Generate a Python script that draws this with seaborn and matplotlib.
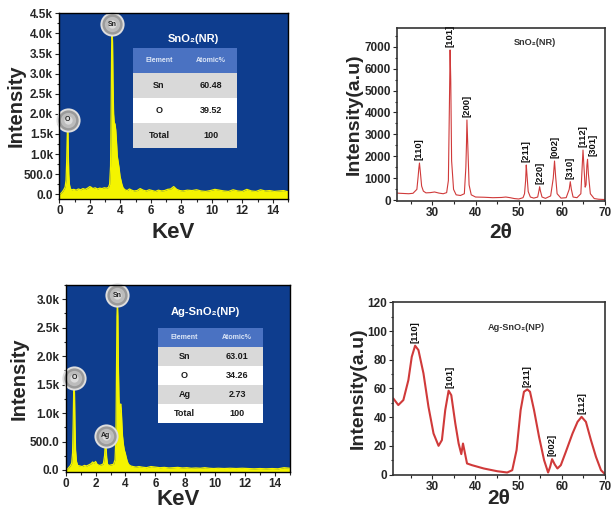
import numpy as np
import pandas as pd
import matplotlib.pyplot as plt
import seaborn as sns
from matplotlib.ticker import MultipleLocator, FuncFormatter
from matplotlib.transforms import offset_copy

# EDS spectrum, SnO2 nanorods
kev_nr = [0.00, 0.10, 0.20, 0.30, 0.38, 0.44, 0.48, 0.51, 0.53, 0.55, 0.57, 0.59, 0.62, 0.66, 0.72,
          0.80, 0.95, 1.10, 1.25, 1.40, 1.55, 1.70, 1.85, 2.00, 2.10, 2.20, 2.35, 2.50, 2.65, 2.80,
          2.95, 3.10, 3.22, 3.30, 3.36, 3.40, 3.43, 3.46, 3.49, 3.52, 3.56, 3.60, 3.65, 3.70, 3.75,
          3.80, 3.86, 3.92, 3.98, 4.04, 4.10, 4.18, 4.30, 4.45, 4.60, 4.75, 4.90, 5.10, 5.30, 5.50,
          5.70, 5.90, 6.10, 6.30, 6.50, 6.70, 6.90, 7.10, 7.30, 7.50, 7.70, 7.90, 8.10, 8.40, 8.70,
          9.00, 9.30, 9.60, 9.90, 10.20, 10.50, 10.80, 11.10, 11.40, 11.70, 12.00, 12.30, 12.60,
          12.90, 13.20, 13.50, 13.80, 14.10, 14.40, 14.70, 15.00]
cnt_nr = [0, 20, 60, 120, 180, 350, 800, 1300, 1600, 1680, 1500, 1000, 500, 250, 140,
          110, 120, 100, 130, 110, 140, 120, 150, 190, 170, 140, 160, 130, 150, 140,
          160, 150, 170, 250, 700, 2200, 3600, 4050, 3800, 2800, 2000, 1780, 1750, 1600, 1300,
          950, 800, 650, 450, 350, 250, 160, 110, 90, 130, 100, 80, 90, 140, 100,
          80, 110, 90, 70, 100, 80, 90, 120, 130, 190, 120, 90, 80, 100, 90,
          110, 80, 70, 90, 120, 100, 80, 70, 110, 80, 70, 120, 80,
          70, 110, 80, 90, 70, 80, 90, 60]
el_nr = ['O', 'Sn']
el_kev_nr = [0.55, 3.46]
el_cnt_nr = [1680, 4050]
tab_nr = [['Element', 'Atomic%'], ['Sn', '60.48'], ['O', '39.52'], ['Total', '100']]

# EDS spectrum, Ag-SnO2 nanoparticles
kev_np = [0.00, 0.10, 0.20, 0.30, 0.40, 0.46, 0.50, 0.53, 0.56, 0.59, 0.62, 0.66, 0.72, 0.80, 0.95,
          1.10, 1.25, 1.40, 1.55, 1.70, 1.80, 1.90, 2.00, 2.10, 2.25, 2.40, 2.52, 2.60, 2.64, 2.67,
          2.70, 2.74, 2.80, 2.90, 3.05, 3.20, 3.30, 3.36, 3.40, 3.43, 3.46, 3.49, 3.52, 3.56, 3.60,
          3.64, 3.68, 3.72, 3.76, 3.80, 3.86, 3.92, 3.98, 4.05, 4.12, 4.20, 4.35, 4.50, 4.70, 4.90,
          5.10, 5.40, 5.70, 6.00, 6.30, 6.60, 6.90, 7.20, 7.50, 7.80, 8.10, 8.40, 8.70, 9.00, 9.30,
          9.60, 9.90, 10.20, 10.60, 11.00, 11.40, 11.80, 12.20, 12.60, 13.00, 13.40, 13.80, 14.20,
          14.60, 15.00]
cnt_np = [0, 10, 40, 70, 120, 300, 800, 1300, 1500, 1350, 800, 350, 150, 80, 70,
          60, 80, 70, 90, 110, 140, 120, 150, 100, 80, 90, 110, 250, 420, 480,
          420, 220, 100, 80, 90, 100, 180, 600, 1800, 2700, 2950, 2700, 1900, 1300, 1000,
          1100, 1160, 1050, 800, 600, 450, 350, 300, 220, 150, 100, 70, 60, 50, 60,
          50, 40, 60, 50, 40, 45, 35, 40, 45, 35, 40, 30, 35, 30, 40,
          30, 25, 30, 25, 30, 25, 30, 25, 20, 25, 20, 25, 20,
          40, 30]
el_np = ['O', 'Ag', 'Sn']
el_kev_np = [0.56, 2.67, 3.46]
el_cnt_np = [1500, 480, 2950]
tab_np = [['Element', 'Atomic%'], ['Sn', '63.01'], ['O', '34.26'], ['Ag', '2.73'], ['Total', '100']]

# XRD, SnO2 nanorods
tt_nr = [21.8, 22.5, 23.5, 24.5, 25.5, 26.4, 26.7, 26.85, 27.0, 27.2, 27.5, 27.9, 28.5, 29.5, 30.5,
         31.5, 32.5, 33.3, 33.7, 33.95, 34.1, 34.25, 34.45, 34.9, 35.5, 36.5, 37.4, 37.75, 37.9,
         38.0, 38.2, 38.5, 39.0, 40.0, 42.0, 44.0, 46.0, 47.0, 48.0, 49.0, 50.0, 51.0, 51.35,
         51.6, 51.75, 51.9, 52.2, 52.7, 53.5, 54.4, 54.7, 54.85, 55.0, 55.4, 56.2, 57.4, 58.0,
         58.3, 58.55, 58.9, 59.8, 61.0, 61.7, 61.95, 62.2, 62.6, 63.5, 64.4, 64.7, 64.9, 65.1,
         65.4, 65.6, 65.8, 65.95, 66.15, 66.6, 67.5, 68.5, 69.5, 70.0]
int_nr = [330, 320, 310, 300, 320, 500, 1100, 1450, 1700, 1300, 650, 420, 340, 350, 380,
          330, 300, 350, 900, 4500, 6850, 5500, 1800, 500, 250, 220, 300, 1500, 2600,
          3660, 2500, 700, 250, 150, 140, 120, 130, 150, 120, 80, 60, 120, 300,
          900, 1610, 1200, 400, 150, 100, 150, 450, 620, 450, 150, 90, 200, 1000,
          1790, 1100, 300, 100, 120, 500, 850, 500, 150, 120, 300, 1500, 2290, 1600,
          600, 700, 1600, 1870, 1200, 300, 80, 50, 40, 40]
pk_nr = ['[110]', '[101]', '[200]', '[211]', '[220]', '[002]', '[310]', '[112]', '[301]']
pk_tt_nr = [27.0, 34.1, 38.0, 51.75, 54.85, 58.3, 61.95, 64.9, 65.95]
pk_int_nr = [1700, 6850, 3660, 1610, 620, 1790, 850, 2290, 1870]

# XRD, Ag-SnO2 nanoparticles
tt_np = [21.0, 22.16, 23.33, 24.49, 25.27, 26.05, 26.82, 27.98, 29.14, 30.31, 31.47, 32.25, 33.02,
         33.8, 34.42, 35.35, 36.12, 36.74, 37.13, 37.52, 38.06, 39.22, 41.94, 45.04, 47.36,
         48.53, 49.53, 50.47, 51.24, 52.02, 52.64, 53.57, 54.73, 55.9, 56.83, 57.29, 57.75,
         58.37, 58.99, 59.77, 60.93, 62.48, 63.64, 64.57, 65.58, 66.74, 67.91, 69.07, 69.84]
int_np = [53, 48.4, 51.9, 65.8, 82, 89.8, 86.7, 70.5, 47.2, 28.6, 20, 24, 44.9,
          58.4, 55.3, 35.6, 21.6, 14.2, 21.6, 15.8, 7.7, 6.5, 4.2, 2.3, 1.4,
          3, 17, 44.9, 57.7, 59.3, 57.7, 44.9, 26.3, 10, 1.4, 5.3, 10.7,
          7, 4.2, 6.5, 15.8, 28.6, 36.7, 40.2, 36.7, 24, 12.3, 3, 0.7]
pk_np = ['[110]', '[101]', '[211]', '[002]', '[112]']
pk_tt_np = [26.05, 34.2, 52.02, 57.75, 64.57]
pk_int_np = [89.8, 58.4, 59.3, 10.7, 40.2]

sns.set_theme(style='ticks')
plt.rcParams['font.family'] = ['Liberation Sans', 'DejaVu Sans']
plt.rcParams['font.weight'] = 'bold'
plt.rcParams['axes.linewidth'] = 1.0

BLUE_BG = '#0e3d8e'
YELLOW = '#f4f400'
RED = '#d03a3a'

fig = plt.figure(figsize=(6.11, 5.16), dpi=100)
ax_tl = fig.add_axes([0.0971, 0.6143, 0.3743, 0.3599])
ax_tr = fig.add_axes([0.6498, 0.6105, 0.3404, 0.3353])
ax_bl = fig.add_axes([0.1075, 0.0859, 0.3671, 0.3618])
ax_br = fig.add_axes([0.6437, 0.0804, 0.3465, 0.3337])


def kfmt(v, pos):
    if v < 1000:
        return f'{v:.1f}'
    return f'{v/1000:.1f}k'


def sphere(ax, x, y, name):
    tr = offset_copy(ax.transData, fig=fig, y=7, units='dots')
    ax.plot([x], [y], 'o', ms=16, mfc='#9a9a9a', mec='#dedede', mew=1.4, transform=tr, clip_on=False, zorder=6)
    ax.plot([x], [y], 'o', ms=11, mfc='#bcbcbc', mec='none', transform=tr, clip_on=False, zorder=7)
    ax.plot([x], [y], 'o', ms=6, mfc='#dcdcdc', mec='none', transform=tr, clip_on=False, zorder=7)
    ax.text(x, y, name, transform=tr, ha='center', va='center', fontsize=5, fontweight='bold',
            color='#222222', zorder=8)


def eds_panel(ax, kev, cnt, els, el_kev, el_cnt, rows, title, tx, ty, bbox, ymax, ylim, ylab_x, xlab_y):
    ax.set_facecolor(BLUE_BG)
    ax.fill_between(kev, cnt, -500, color=YELLOW, lw=0, zorder=2)
    sns.lineplot(x=kev, y=cnt, ax=ax, color=YELLOW, lw=0.9, zorder=3)
    for e, x, y in zip(els, el_kev, el_cnt):
        sphere(ax, x, y, e)
    ax.set_xlim(0, 15)
    ax.set_ylim(*ylim)
    ax.xaxis.set_major_locator(MultipleLocator(2))
    ax.xaxis.set_minor_locator(MultipleLocator(1))
    ax.set_yticks(np.arange(0, ymax + 1, 500))
    ax.yaxis.set_minor_locator(MultipleLocator(250))
    ax.yaxis.set_major_formatter(FuncFormatter(kfmt))
    ax.tick_params(which='both', direction='out', width=0.8, labelsize=8.5, pad=1.5)
    ax.tick_params(which='major', length=3)
    ax.tick_params(which='minor', length=1.8)
    for lab in ax.get_xticklabels() + ax.get_yticklabels():
        lab.set_fontweight('bold')
    ax.set_xlabel('KeV', fontsize=16, fontweight='bold')
    ax.set_ylabel('Intensity', fontsize=14.5, fontweight='bold')
    ax.yaxis.set_label_coords(ylab_x, 0.5)
    ax.xaxis.set_label_coords(0.5, xlab_y)
    ax.xaxis.label.set_va('top')
    for s in ax.spines.values():
        s.set_color('black')
        s.set_zorder(10)
    # composition table
    colours = []
    for i in range(len(rows)):
        if i == 0:
            colours.append(['#4a72c2'] * 2)
        elif i % 2 == 1:
            colours.append(['#d9d9d9'] * 2)
        else:
            colours.append(['#ffffff'] * 2)
    tab = ax.table(cellText=rows, cellColours=colours, cellLoc='center', bbox=bbox, zorder=9)
    tab.auto_set_font_size(False)
    for (r, c), cell in tab.get_celld().items():
        cell.set_edgecolor('none')
        t = cell.get_text()
        t.set_fontweight('bold')
        if r == 0:
            t.set_fontsize(5)
            t.set_color('#dce6f7')
        else:
            t.set_fontsize(6.5)
            t.set_color('#1a1a1a')
    ax.text(tx, ty, title, transform=ax.transAxes, ha='center', va='center', color='white',
            fontsize=8, fontweight='bold', family=['Liberation Sans', 'DejaVu Sans'], zorder=9)


eds_panel(ax_tl, kev_nr, cnt_nr, el_nr, el_kev_nr, el_cnt_nr, tab_nr, 'SnO\u2082(NR)', 0.585, 0.862,
          [0.322, 0.275, 0.455, 0.538], 4500, (-120, 4500), -0.146, -0.125)
eds_panel(ax_bl, kev_np, cnt_np, el_np, el_kev_np, el_cnt_np, tab_np, 'Ag-SnO\u2082(NP)', 0.621, 0.857,
          [0.413, 0.261, 0.468, 0.509], 3000, (-30, 3250), -0.167, -0.092)


def xrd_panel(ax, tt, inten, pks, pk_tt, pk_int, title, tx, ty, xlo, ylim, major, minor, lw, ylab_x, xlab_y):
    sns.lineplot(x=tt, y=inten, ax=ax, color=RED, lw=lw)
    for lab, x, y in zip(pks, pk_tt, pk_int):
        dx = 4 if lab == '[301]' else 0
        ax.annotate(lab, (x, y), xytext=(dx, 2), textcoords='offset points', rotation=90,
                    ha='center', va='bottom', fontsize=6.8, fontweight='bold', color='#111111')
    ax.text(tx, ty, title, ha='center', va='center', fontsize=6.6, fontweight='bold', color='#333333',
            family=['Liberation Sans', 'DejaVu Sans'])
    ax.set_xlim(xlo, 70)
    ax.set_ylim(*ylim)
    ax.xaxis.set_major_locator(MultipleLocator(10))
    ax.xaxis.set_minor_locator(MultipleLocator(5))
    ax.yaxis.set_major_locator(MultipleLocator(major))
    ax.yaxis.set_minor_locator(MultipleLocator(minor))
    ax.tick_params(which='both', direction='out', width=0.8, labelsize=8.5, pad=1.5)
    ax.tick_params(which='major', length=3)
    ax.tick_params(which='minor', length=1.8)
    for lab in ax.get_xticklabels() + ax.get_yticklabels():
        lab.set_fontweight('bold')
    ax.set_xlabel('2\u03b8', fontsize=15, fontweight='bold')
    ax.set_ylabel('Intensity(a.u)', fontsize=14, fontweight='bold')
    ax.yaxis.set_label_coords(ylab_x, 0.5)
    ax.xaxis.set_label_coords(0.5, xlab_y)
    ax.xaxis.label.set_va('top')
    for s in ax.spines.values():
        s.set_color('#333333')
        s.set_linewidth(1.2)


xrd_panel(ax_tr, tt_nr, int_nr, pk_nr, pk_tt_nr, pk_int_nr, 'SnO\u2082(NR)', 53.8, 7170,
          21.8, (-30, 7850), 1000, 500, 0.8, -0.163, -0.125)
ax_tr.set_yticks(np.arange(0, 7001, 1000))
xrd_panel(ax_br, tt_np, int_np, pk_np, pk_tt_np, pk_int_np, 'Ag-SnO\u2082(NP)', 49.5, 102.8,
          21.0, (0, 120), 20, 10, 1.5, -0.126, -0.085)

fig.savefig('out.png', dpi=100)
